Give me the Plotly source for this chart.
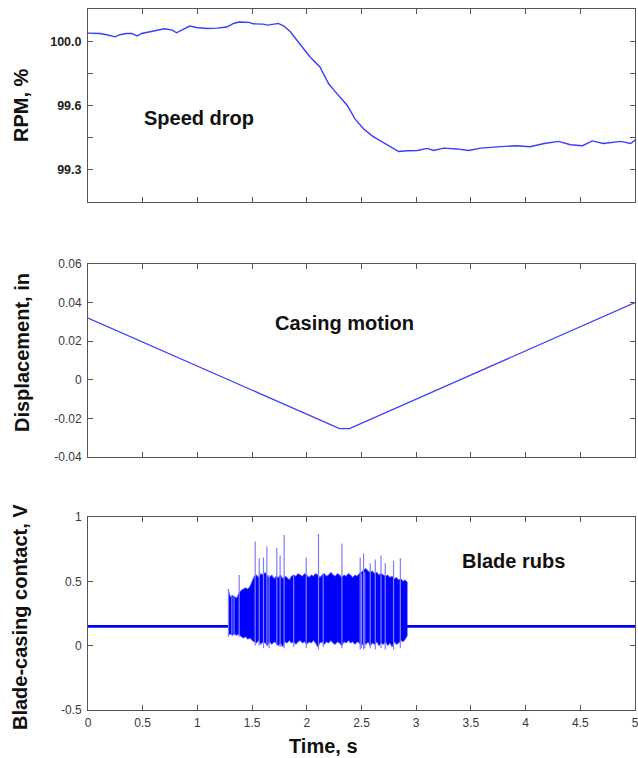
import plotly.graph_objects as go

# ---------------- data ----------------
# Panel 1: rotor speed (RPM, %)
rpm_t = [0.0, 0.11, 0.17, 0.25, 0.29, 0.35, 0.40, 0.45, 0.49, 0.57, 0.63, 0.70, 0.77,
         0.81, 0.87, 0.93, 0.99, 1.09, 1.18, 1.27, 1.33, 1.38, 1.47, 1.51, 1.60, 1.64,
         1.70, 1.74, 1.79, 1.85, 1.91, 1.97, 2.03, 2.12, 2.20, 2.25, 2.31, 2.37, 2.44,
         2.52, 2.60, 2.70, 2.78, 2.84, 2.92, 3.01, 3.10, 3.16, 3.25, 3.37, 3.48, 3.59,
         3.77, 3.92, 4.04, 4.17, 4.30, 4.41, 4.52, 4.61, 4.71, 4.87, 4.96, 5.0]
rpm = [100.050, 100.048, 100.040, 100.027, 100.040, 100.048, 100.048, 100.033, 100.048,
       100.060, 100.069, 100.077, 100.069, 100.052, 100.073, 100.094, 100.085, 100.079,
       100.081, 100.088, 100.110, 100.119, 100.117, 100.108, 100.106, 100.100, 100.106,
       100.110, 100.094, 100.058, 100.006, 99.954, 99.902, 99.840, 99.735, 99.694,
       99.650, 99.600, 99.517, 99.454, 99.410, 99.370, 99.340, 99.314, 99.319, 99.320,
       99.333, 99.320, 99.335, 99.330, 99.320, 99.335, 99.344, 99.350, 99.344, 99.364,
       99.377, 99.356, 99.350, 99.380, 99.364, 99.377, 99.364, 99.385]
rpm_tickvals = [100.0, 99.8, 99.6, 99.4, 99.2]
rpm_ticktext = ["100.0", "", "99.6", "", "99.3"]

# Panel 2: casing displacement (in)
disp_t = [0.0, 2.30, 2.39, 5.0]
disp = [0.032, -0.0253, -0.0253, 0.040]
disp_tickvals = [-0.04, -0.02, 0, 0.02, 0.04, 0.06]
disp_ticktext = ["-0.04", "-0.02", "0", "0.02", "0.04", "0.06"]

# Panel 3: blade-casing contact (V)
base_t = [0.0, 1.28, 2.92, 5.0]
base_v = [0.15, 0.15, 0.15, 0.15]

rub_t = [1.28, 1.30, 1.32, 1.34, 1.36, 1.38, 1.40, 1.42, 1.44, 1.46,
         1.48, 1.50, 1.52, 1.54, 1.56, 1.58, 1.60, 1.62, 1.64, 1.66,
         1.68, 1.70, 1.72, 1.74, 1.76, 1.78, 1.80, 1.82, 1.84, 1.86,
         1.88, 1.90, 1.92, 1.94, 1.96, 1.98, 2.00, 2.02, 2.04, 2.06,
         2.08, 2.10, 2.12, 2.14, 2.16, 2.18, 2.20, 2.22, 2.24, 2.26,
         2.28, 2.30, 2.32, 2.34, 2.36, 2.38, 2.40, 2.42, 2.44, 2.46,
         2.48, 2.50, 2.52, 2.54, 2.56, 2.58, 2.60, 2.62, 2.64, 2.66,
         2.68, 2.70, 2.72, 2.74, 2.76, 2.78, 2.80, 2.82, 2.84, 2.86,
         2.88, 2.90, 2.92]
rub_upper = [0.44, 0.38, 0.39, 0.38, 0.37, 0.41, 0.43, 0.44, 0.45, 0.44,
             0.46, 0.50, 0.54, 0.55, 0.53, 0.56, 0.55, 0.57, 0.54, 0.53,
             0.55, 0.52, 0.54, 0.53, 0.55, 0.52, 0.54, 0.53, 0.51, 0.54,
             0.55, 0.54, 0.56, 0.55, 0.54, 0.56, 0.55, 0.53, 0.55, 0.54,
             0.56, 0.55, 0.53, 0.55, 0.56, 0.54, 0.55, 0.57, 0.55, 0.54,
             0.56, 0.55, 0.53, 0.55, 0.54, 0.56, 0.55, 0.53, 0.55, 0.54,
             0.56, 0.57, 0.59, 0.60, 0.58, 0.57, 0.58, 0.56, 0.57, 0.55,
             0.56, 0.55, 0.54, 0.55, 0.53, 0.54, 0.52, 0.53, 0.51, 0.52,
             0.50, 0.51, 0.49]
rub_lower = [0.08, 0.09, 0.08, 0.09, 0.08, 0.09, 0.07, 0.06, 0.07, 0.05,
             0.06, 0.04, 0.03, 0.02, 0.04, 0.01, 0.03, 0.02, 0.00, 0.03,
             0.01, 0.03, 0.02, 0.00, 0.02, -0.01, 0.03, 0.02, 0.04, 0.02,
             0.03, 0.01, 0.03, 0.04, 0.02, 0.03, 0.01, 0.03, 0.02, 0.04,
             0.02, -0.01, 0.02, 0.03, 0.01, 0.03, 0.02, 0.04, 0.02, 0.01,
             0.03, 0.02, 0.00, 0.03, 0.02, 0.04, 0.02, 0.03, 0.01, 0.03,
             0.02, 0.00, 0.02, 0.01, 0.03, 0.00, 0.02, 0.01, 0.03, 0.00,
             0.02, 0.01, 0.03, 0.00, 0.02, -0.01, 0.03, 0.01, 0.02, 0.04,
             0.03, 0.05, 0.08]

spike_t = [1.284, 1.315, 1.335, 1.382, 1.528, 1.565, 1.604, 1.635, 1.655, 1.726,
           1.756, 1.793, 1.880, 1.995, 2.107, 2.150, 2.321, 2.488, 2.500, 2.519,
           2.530, 2.580, 2.626, 2.678, 2.717, 2.793, 2.855]
spike_top = [0.44, 0.39, 0.38, 0.55, 0.81, 0.68, 0.685, 0.77, 0.55, 0.76,
             0.70, 0.86, 0.55, 0.685, 0.87, 0.56, 0.795, 0.685, 0.56, 0.716,
             0.57, 0.64, 0.67, 0.70, 0.64, 0.66, 0.68]
spike_bottom = [0.07, 0.08, 0.08, 0.07, 0.00, 0.00, -0.02, 0.00, -0.02, 0.00,
                -0.01, -0.02, -0.01, -0.02, -0.03, -0.01, -0.02, -0.03, -0.02, -0.03,
                -0.02, -0.02, -0.03, -0.02, -0.03, -0.03, -0.02]
rub_tickvals = [-0.5, 0, 0.5, 1]
rub_ticktext = ["-0.5", "0", "0.5", "1"]

time_tickvals = [0, 0.5, 1, 1.5, 2, 2.5, 3, 3.5, 4, 4.5, 5]
time_ticktext = ["0", "0.5", "1", "1.5", "2", "2.5", "3", "3.5", "4", "4.5", "5"]

# ---------------- figure ----------------
W, H = 638, 758
FONT = "Liberation Sans, Arial, sans-serif"
LINE_BLUE = "#3c3cff"

fig = go.Figure()

fig.add_trace(go.Scatter(x=rpm_t, y=rpm, mode="lines", xaxis="x", yaxis="y",
                         line=dict(color=LINE_BLUE, width=1.4), hoverinfo="skip"))
fig.add_trace(go.Scatter(x=disp_t, y=disp, mode="lines", xaxis="x2", yaxis="y2",
                         line=dict(color=LINE_BLUE, width=1.3), hoverinfo="skip"))

fig.add_trace(go.Scatter(x=base_t, y=base_v, mode="lines", xaxis="x3", yaxis="y3",
                         line=dict(color="#0000ff", width=2.6), hoverinfo="skip"))
fig.add_trace(go.Scatter(x=rub_t, y=rub_lower, mode="lines", xaxis="x3", yaxis="y3",
                         line=dict(color="#4a4aff", width=0.8), hoverinfo="skip"))
fig.add_trace(go.Scatter(x=rub_t, y=rub_upper, mode="lines", xaxis="x3", yaxis="y3",
                         fill="tonexty", fillcolor="#0000ff",
                         line=dict(color="#4a4aff", width=0.8), hoverinfo="skip"))
sx, sy = [], []
for t, lo, hi in zip(spike_t, spike_bottom, spike_top):
    sx += [t, t, None]
    sy += [lo, hi, None]
fig.add_trace(go.Scatter(x=sx, y=sy, mode="lines", xaxis="x3", yaxis="y3",
                         line=dict(color="#7d7dff", width=1.2), hoverinfo="skip"))

xdom = [88 / W, 635 / W]


def ydom(top_px, bot_px):
    return [1 - bot_px / H, 1 - top_px / H]


axis_common = dict(showline=True, linecolor="#555555", linewidth=1, mirror="ticks",
                   ticks="inside", ticklen=5, tickcolor="#555555", tickwidth=1,
                   showgrid=False, zeroline=False, automargin=False,
                   ticklabeloverflow="allow")
tick_font = dict(family=FONT, size=12, color="#3a3a3a")

fig.update_layout(
    width=W, height=H,
    margin=dict(l=0, r=0, t=0, b=0),
    paper_bgcolor="white", plot_bgcolor="white",
    showlegend=False,
    xaxis=dict(domain=xdom, anchor="y", range=[0, 5], tickvals=time_tickvals,
               showticklabels=False, **axis_common),
    yaxis=dict(domain=ydom(9, 202), anchor="x", range=[99.0, 100.2],
               tickvals=rpm_tickvals, ticktext=rpm_ticktext, ticklabelstandoff=3,
               tickfont=dict(family=FONT, size=12.5, color="#222222", weight="bold"),
               **axis_common),
    xaxis2=dict(domain=xdom, anchor="y2", range=[0, 5], tickvals=time_tickvals,
                showticklabels=False, **axis_common),
    yaxis2=dict(domain=ydom(264, 457), anchor="x2", range=[-0.04, 0.06],
                tickvals=disp_tickvals, ticktext=disp_ticktext, tickfont=tick_font,
                ticklabelstandoff=3, **axis_common),
    xaxis3=dict(domain=xdom, anchor="y3", range=[0, 5], tickvals=time_tickvals,
                ticktext=time_ticktext, tickfont=tick_font, ticklabelstandoff=2,
                **axis_common),
    yaxis3=dict(domain=ydom(517, 710), anchor="x3", range=[-0.5, 1],
                tickvals=rub_tickvals, ticktext=rub_ticktext, tickfont=tick_font,
                ticklabelstandoff=3, **axis_common),
)

label_font = dict(family=FONT, size=20, color="#111111", weight="bold")


def ann(text, px, py, angle=0):
    fig.add_annotation(text=text, x=px / W, y=1 - py / H, xref="paper", yref="paper",
                       showarrow=False, xanchor="center", yanchor="middle",
                       textangle=angle, font=label_font)


ann("Speed drop", 199, 118)
ann("Casing motion", 344, 323)
ann("Blade rubs", 513, 561)
ann("Time, s", 323, 746)
ann("RPM, %", 21, 105, -90)
ann("Displacement, in", 22, 353, -90)
ann("Blade-casing contact, V", 20, 617, -90)

fig.write_html(
    "out.html",
    config={"displayModeBar": False, "staticPlot": True},
    post_script="document.body.style.margin='0';document.body.style.padding='0';"
                "document.body.style.overflow='hidden';",
)
